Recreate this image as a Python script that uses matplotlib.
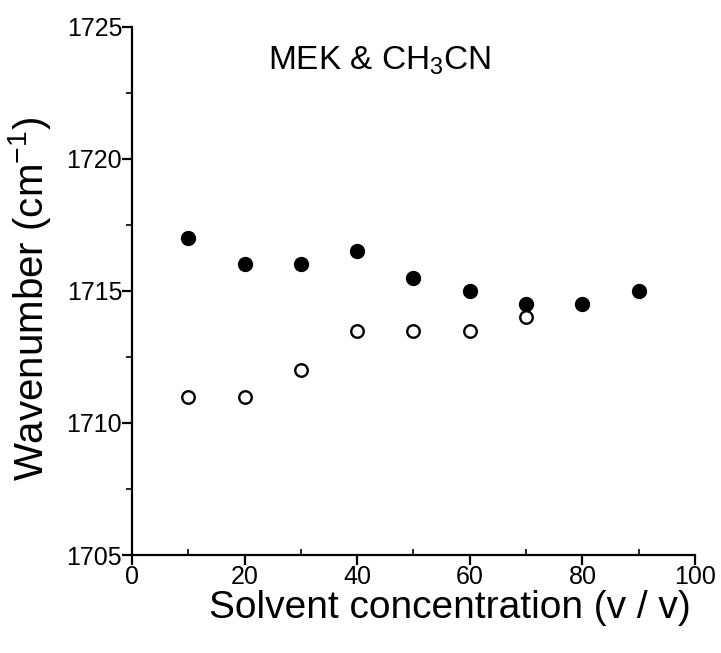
import matplotlib
matplotlib.use('Agg')
import matplotlib.pyplot as plt
from matplotlib.ticker import MultipleLocator

plt.rcParams['font.family'] = ['Liberation Sans', 'DejaVu Sans']
plt.rcParams['mathtext.fontset'] = 'custom'
plt.rcParams['mathtext.rm'] = 'Liberation Sans'
plt.rcParams['mathtext.it'] = 'Liberation Sans'
plt.rcParams['mathtext.default'] = 'regular'

# solvent concentration (v/v)
conc_filled = [10, 20, 30, 40, 50, 60, 70, 80, 90]
wn_filled = [1717.0, 1716.0, 1716.0, 1716.5, 1715.5, 1715.0, 1714.5, 1714.5, 1715.0]

conc_open = [10, 20, 30, 40, 50, 60, 70]
wn_open = [1711.0, 1711.0, 1712.0, 1713.5, 1713.5, 1713.5, 1714.0]

fig = plt.figure(figsize=(7.21, 6.53), dpi=100)
ax = fig.add_axes([0.183, 0.150, 0.781, 0.809])

ax.plot(conc_filled, wn_filled, 'o', color='black', markersize=10, linestyle='none')
ax.plot(conc_open, wn_open, 'o', markerfacecolor='white', markeredgecolor='black',
        markersize=9, markeredgewidth=1.7, linestyle='none')

ax.set_xlim(0, 100)
ax.set_ylim(1705, 1725)
ax.xaxis.set_major_locator(MultipleLocator(20))
ax.xaxis.set_minor_locator(MultipleLocator(10))
ax.yaxis.set_major_locator(MultipleLocator(5))
ax.yaxis.set_minor_locator(MultipleLocator(2.5))

for side in ['top', 'right']:
    ax.spines[side].set_visible(False)
for side in ['left', 'bottom']:
    ax.spines[side].set_linewidth(1.6)

ax.tick_params(which='major', direction='out', length=7, width=1.6, labelsize=18, pad=0)
ax.tick_params(axis='x', which='minor', direction='in', length=4, width=1.2)
ax.tick_params(axis='y', which='minor', direction='out', length=4, width=1.2)

ax.set_xlabel('Solvent concentration (v / v)', fontsize=28)
ax.xaxis.set_label_coords(0.565, -0.066)
ax.set_ylabel('Wavenumber (cm$^{-1}$)', fontsize=29)
ax.yaxis.set_label_coords(-0.14, 0.485)

ax.text(0.44, 0.935, 'MEK & CH$_3$CN', transform=ax.transAxes,
        ha='center', va='center', fontsize=24)

fig.savefig('out.png', dpi=100)
